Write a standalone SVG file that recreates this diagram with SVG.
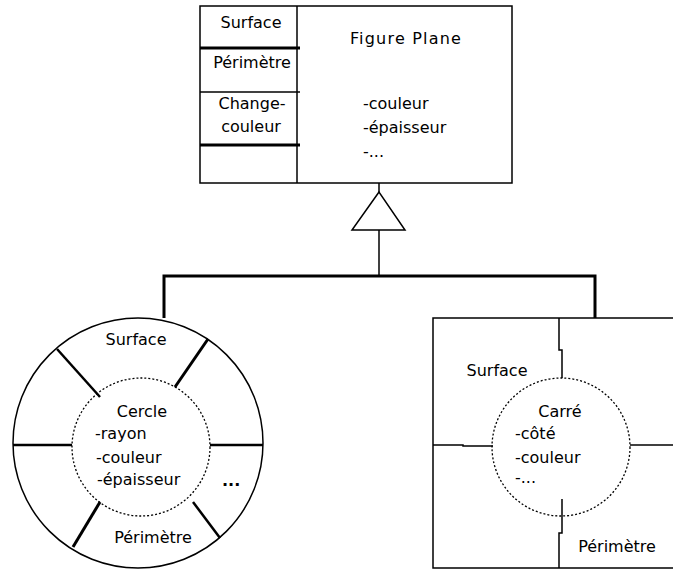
<svg xmlns="http://www.w3.org/2000/svg" width="673" height="572" viewBox="0 0 673 572">
<style>
.t{font-family:"DejaVu Sans","Liberation Sans",sans-serif;font-size:16px;fill:#000}
.m{text-anchor:middle}
.ln{stroke:#000;stroke-width:1.5;fill:none}
.thk{stroke:#000;stroke-width:3;fill:none}
.sp{stroke:#000;stroke-width:2.5;fill:none}
.dot{stroke:#000;stroke-width:1.3;fill:none;stroke-dasharray:2 2}
</style>
<rect width="673" height="572" fill="#fff"/>
<g id="connectors">
<line class="ln" x1="379" y1="183" x2="379" y2="192"/>
<polygon class="ln" points="379,192 352,230 405,230" fill="#fff"/>
<line class="ln" x1="379" y1="230" x2="379" y2="276"/>
<polyline class="thk" points="164,318 164,276 595,276 595,318"/>
</g>
<g id="figure-plane">
<rect class="ln" x="200" y="6" width="312" height="177" fill="#fff"/>
<line class="ln" x1="297" y1="6" x2="297" y2="183"/>
<line class="thk" x1="200" y1="48" x2="300" y2="48"/>
<line class="ln" x1="200" y1="92" x2="300" y2="92"/>
<line class="thk" x1="200" y1="145" x2="300" y2="145"/>
<text class="t m" x="251" y="28">Surface</text>
<text class="t m" x="252" y="68">Périmètre</text>
<text class="t m" x="252" y="109">Change-</text>
<text class="t m" x="251" y="132">couleur</text>
<text class="t m" x="406" y="44" letter-spacing="1.2">Figure Plane</text>
<text class="t" x="363" y="109">-couleur</text>
<text class="t" x="363" y="133">-épaisseur</text>
<text class="t" x="363" y="157">-...</text>
</g>
<g id="cercle">
<circle class="ln" cx="138" cy="443" r="125"/>
<circle class="dot" cx="141" cy="447" r="69"/>
<line class="sp" x1="100" y1="397" x2="57" y2="349"/>
<line class="thk" x1="175" y1="387" x2="208" y2="339"/>
<line class="sp" x1="13" y1="445" x2="72" y2="445"/>
<line class="sp" x1="210" y1="445" x2="263" y2="445"/>
<line class="thk" x1="100" y1="502" x2="73" y2="547"/>
<line class="sp" x1="193" y1="502" x2="220" y2="538"/>
<text class="t m" x="136" y="345">Surface</text>
<text class="t m" x="142" y="417">Cercle</text>
<text class="t" x="95" y="439">-rayon</text>
<text class="t" x="96" y="463">-couleur</text>
<text class="t" x="97" y="485">-épaisseur</text>
<text class="t" x="222" y="486" font-weight="bold">...</text>
<text class="t m" x="153" y="543">Périmètre</text>
</g>
<g id="carre">
<polyline class="ln" points="680,318 433,318 433,568 680,568"/>
<circle class="dot" cx="561" cy="447" r="69"/>
<polyline class="ln" points="559,318 559,350 562,350 562,378"/>
<polyline class="ln" points="433,445 463,445 463,446 493,446"/>
<line class="ln" x1="630" y1="445" x2="673" y2="445"/>
<polyline class="ln" points="562,499 562,533 559,533 559,568"/>
<text class="t m" x="497" y="376">Surface</text>
<text class="t m" x="560" y="417">Carré</text>
<text class="t" x="515" y="439">-côté</text>
<text class="t" x="515" y="463">-couleur</text>
<text class="t" x="515" y="483">-...</text>
<text class="t m" x="617" y="552">Périmètre</text>
</g>
</svg>
